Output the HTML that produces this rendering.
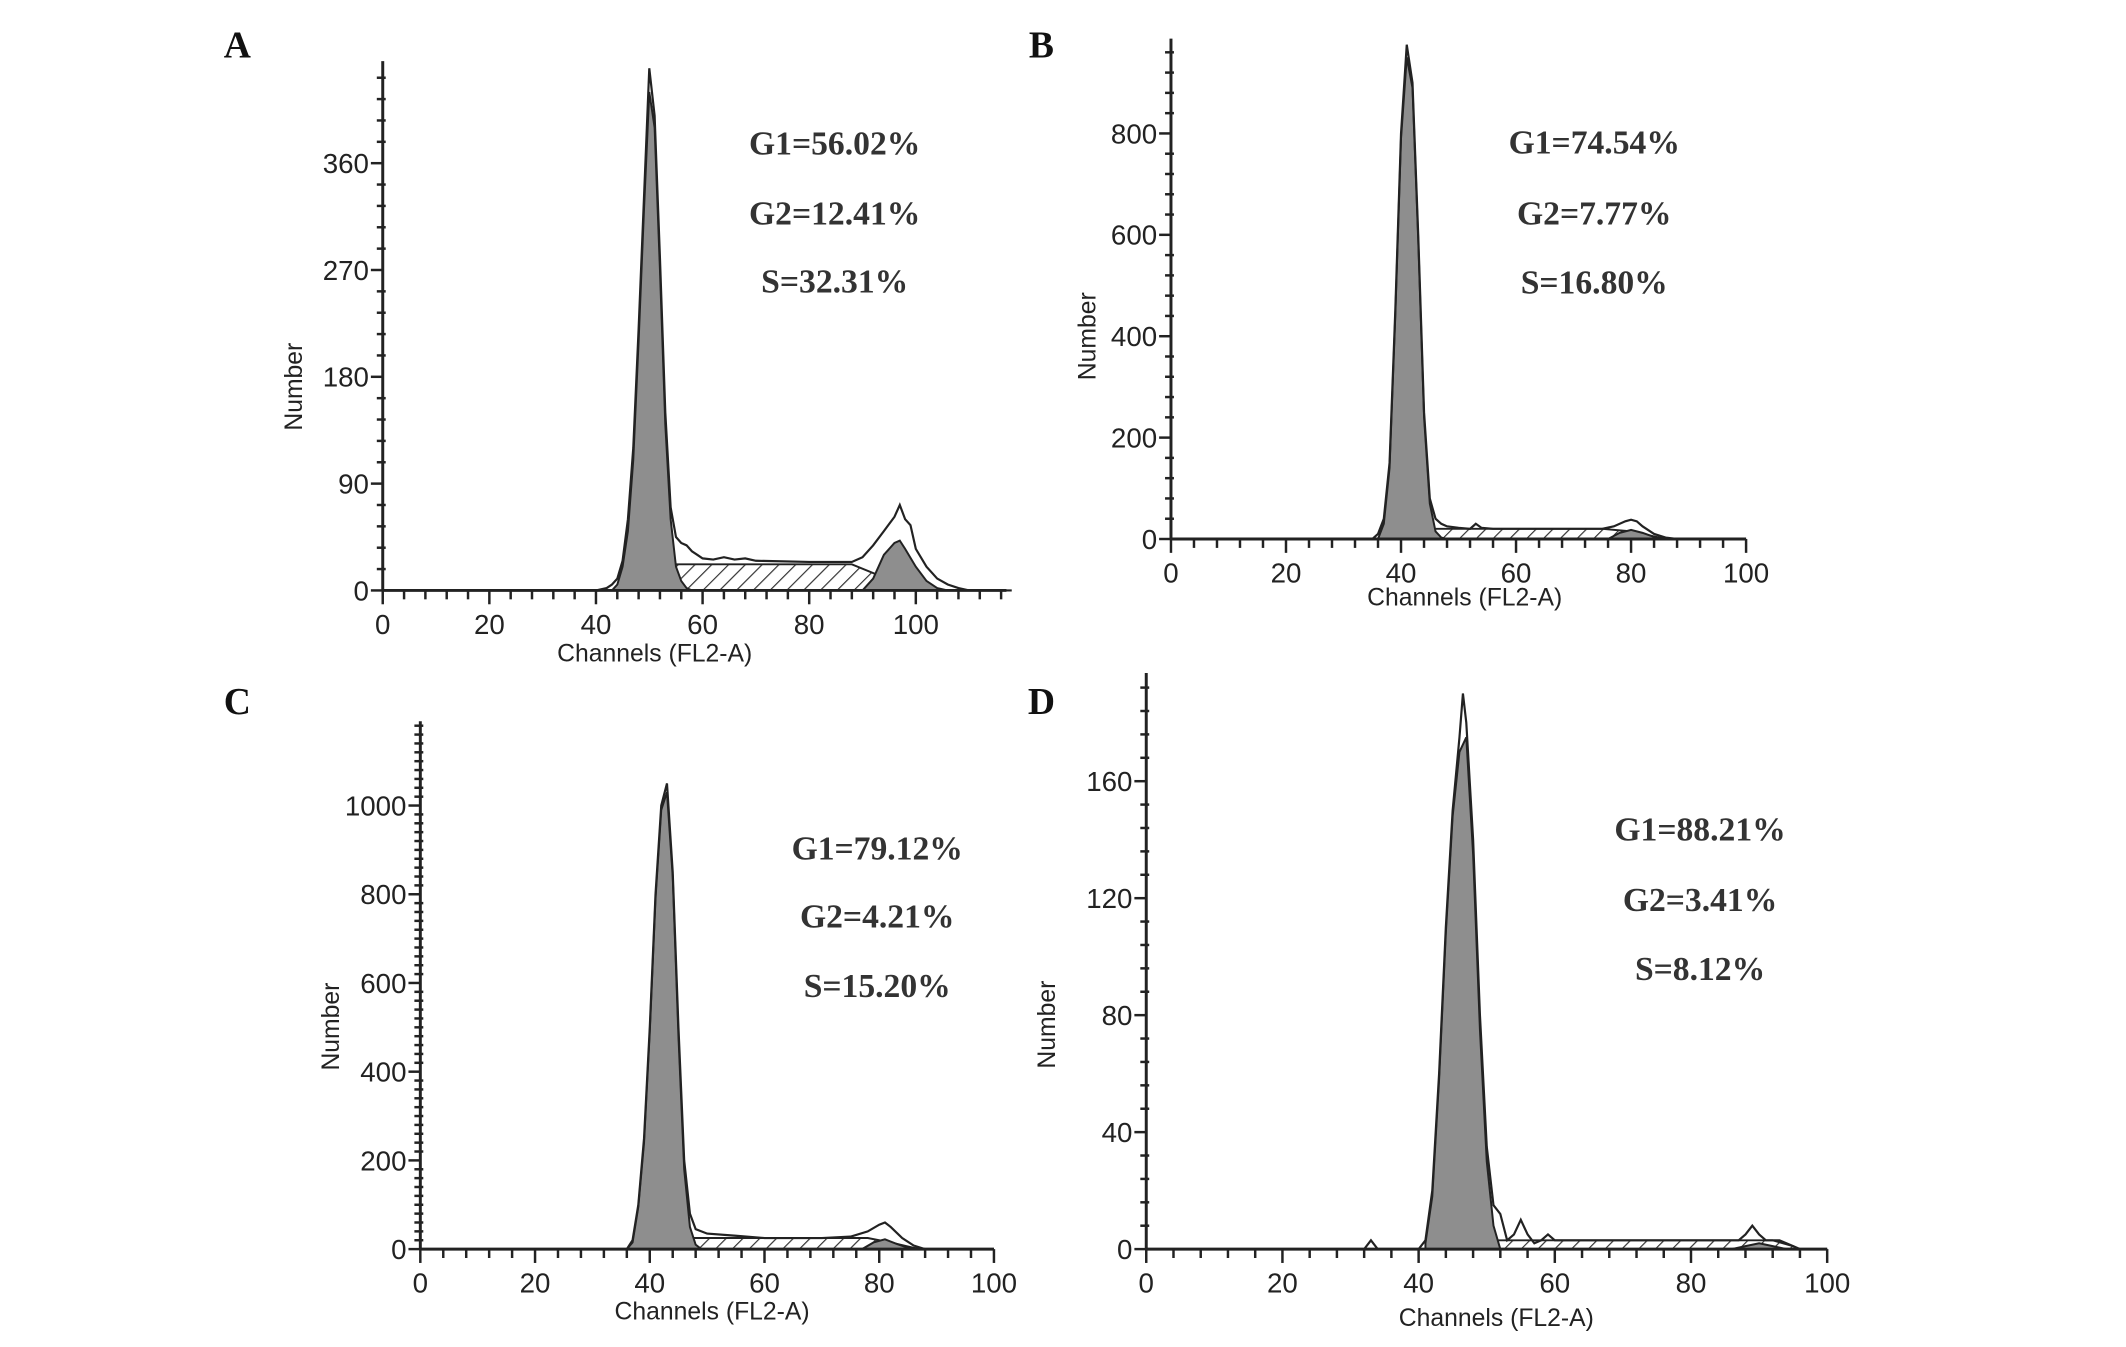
<!DOCTYPE html>
<html><head><meta charset="utf-8"><style>
html,body{margin:0;padding:0;background:#fff;overflow:hidden;}
svg{display:block;}
.tk{font-family:"Liberation Sans",sans-serif;font-size:28px;fill:#222;}
.ttl{font-family:"Liberation Sans",sans-serif;font-size:25px;fill:#222;}
.st{font-family:"Liberation Serif",serif;font-size:34px;font-weight:bold;fill:#333;}
.pl{font-family:"Liberation Serif",serif;font-size:38px;font-weight:bold;fill:#111;}
</style></head><body>
<svg width="2126" height="1347" viewBox="0 0 2126 1347" xmlns="http://www.w3.org/2000/svg">
<defs>
<pattern id="hatch" patternUnits="userSpaceOnUse" width="12" height="12" patternTransform="rotate(45)">
<rect width="12" height="12" fill="#fff"/><line x1="0" y1="0" x2="0" y2="12" stroke="#333" stroke-width="2.4"/>
</pattern>
</defs>
<g id="fig" transform="scale(0.989)"></g>
</svg>
<script>
// ---- Panel A data ----
const aTotalX=[0,40,42,43,44,45,46,47,48,49,50,51,52,53,54,55,56,57,58,59,60,62,64,66,68,70,80,88,90,92,94,96,97,98,99,100,102,104,106,108,110,118];
const aTotalY=[0,0,2,5,10,25,60,120,220,330,440,400,280,150,70,45,40,38,33,30,27,26,28,26,27,25,24,24,28,38,50,62,72,60,55,35,20,10,5,2,0,0];
const aG1X=[43,44,45,46,47,48,49,50,51,52,53,54,55,56,57,58];
const aG1Y=[0,5,20,50,110,210,320,420,390,270,140,60,20,8,2,0];
const aSX=[47,55,88,100];
const aSY=[0,22,22,0];
const aG2X=[90,92,94,96,97,98,100,102,104,106];
const aG2Y=[0,10,30,40,42,35,20,8,2,0];
// ---- Panel B data ----
const bTotalX=[0,35,36,37,38,39,40,41,42,43,44,45,46,47,48,50,52,53,54,56,60,70,75,77,79,80,81,82,84,86,88,100];
const bTotalY=[0,0,10,40,150,450,800,975,900,600,250,80,40,30,25,22,20,30,22,20,20,20,20,25,35,38,35,25,10,3,0,0];
const bG1X=[36,37,38,39,40,41,42,43,44,45,46,47,48];
const bG1Y=[0,30,140,440,790,950,890,590,240,70,15,3,0];
const bSX=[39,42,45,75,80,84,86];
const bSY=[0,10,20,20,15,5,0];
const bG2X=[76,78,80,82,84,86];
const bG2Y=[0,12,18,12,4,0];
// ---- Panel C data ----
const cTotalX=[0,36,37,38,39,40,41,42,43,44,45,46,47,48,50,55,60,70,75,78,80,81,82,84,86,88,100];
const cTotalY=[0,0,20,100,250,500,800,1000,1050,850,500,200,80,45,35,30,25,25,28,40,55,60,50,25,8,0,0];
const cG1X=[36,37,38,39,40,41,42,43,44,45,46,47,48,49];
const cG1Y=[0,15,95,240,490,790,990,1030,840,480,180,50,10,0];
const cSX=[40,43,46,78,82,86,88];
const cSY=[0,15,25,25,15,3,0];
const cG2X=[77,79,81,83,85,87];
const cG2Y=[0,15,22,12,3,0];
// ---- Panel D data ----
const dTotalX=[0,32,33,34,40,41,42,43,44,45,46,46.5,47,48,49,50,51,52,53,54,55,56,57,58,59,60,65,70,80,87,88,89,90,91,93,95,96,100];
const dTotalY=[0,0,3,0,0,3,20,60,110,150,175,190,180,140,80,35,15,12,3,5,10,5,2,3,5,3,3,3,3,3,5,8,5,3,3,1,0,0];
const dG1X=[41,42,43,44,45,46,47,48,49,50,51,52];
const dG1Y=[2,18,58,108,148,170,175,135,75,30,8,0];
const dSX=[43,46,92,95,96];
const dSY=[0,3,3,1,0];
const dG2X=[86,88,90,92,94];
const dG2Y=[0,1,2,1,0];
// ---- tick labels & stats ----
const aXTicks=[0,20,40,60,80,100], aYTicks=[0,90,180,270,360];
const bXTicks=[0,20,40,60,80,100], bYTicks=[0,200,400,600,800];
const cXTicks=[0,20,40,60,80,100], cYTicks=[0,200,400,600,800,1000];
const dXTicks=[0,20,40,60,80,100], dYTicks=[0,40,80,120,160];
const aStats=["G1=56.02%","G2=12.41%","S=32.31%"];
const bStats=["G1=74.54%","G2=7.77%","S=16.80%"];
const cStats=["G1=79.12%","G2=4.21%","S=15.20%"];
const dStats=["G1=88.21%","G2=3.41%","S=8.12%"];

const NS="http://www.w3.org/2000/svg";
const svg=document.getElementById('fig');
function mk(tag,attrs,parent){const e=document.createElementNS(NS,tag);for(const k in attrs)e.setAttribute(k,attrs[k]);(parent||svg).appendChild(e);return e;}

const panels=[
 {id:'a',L:'A',x0:387,y0:597,xs:5.39,ys:1.2,xEnd:117,yTop:446,xMinor:4,yMinor:18,xT:aXTicks,yT:aYTicks,tot:[aTotalX,aTotalY],g1:[aG1X,aG1Y],s:[aSX,aSY],g2:[aG2X,aG2Y],stats:aStats,
  lab:[240,45],sx:844,sy:[144,215,284],nl:[299,391],cl:[662,660]},
 {id:'b',L:'B',x0:1184,y0:545,xs:5.815,ys:0.5126,xEnd:100,yTop:987,xMinor:4,yMinor:40,xT:bXTicks,yT:bYTicks,tot:[bTotalX,bTotalY],g1:[bG1X,bG1Y],s:[bSX,bSY],g2:[bG2X,bG2Y],stats:bStats,
  lab:[1053,45],sx:1612,sy:[143,215,285],nl:[1101,340],cl:[1481,603]},
 {id:'c',L:'C',x0:425,y0:1263,xs:5.80,ys:0.4485,xEnd:100,yTop:1190,xMinor:4,yMinor:20,xT:cXTicks,yT:cYTicks,tot:[cTotalX,cTotalY],g1:[cG1X,cG1Y],s:[cSX,cSY],g2:[cG2X,cG2Y],stats:cStats,
  lab:[240,709],sx:887,sy:[857,926,996],nl:[336,1038],cl:[720,1325]},
 {id:'d',L:'D',x0:1159,y0:1263,xs:6.885,ys:2.957,xEnd:100,yTop:197,xMinor:4,yMinor:8,xT:dXTicks,yT:dYTicks,tot:[dTotalX,dTotalY],g1:[dG1X,dG1Y],s:[dSX,dSY],g2:[dG2X,dG2Y],stats:dStats,
  lab:[1053,709],sx:1719,sy:[838,909,979],nl:[1060,1036],cl:[1513,1332]}
];

panels.forEach(p=>{
 const X=v=>p.x0+v*p.xs, Y=v=>p.y0-v*p.ys;
 const g=mk('g',{});
 
 
 const area=(arr,fill,name)=>{
  let d='M'+X(arr[0][0])+','+p.y0;
  arr[0].forEach((x,i)=>{d+=' L'+X(x).toFixed(1)+','+Y(arr[1][i]).toFixed(1);});
  d+=' L'+X(arr[0][arr[0].length-1])+','+p.y0+' Z';
  const e=mk('path',{d:d,fill:fill,stroke:'#222','stroke-width':2},g);
  
  
 };
 area(p.s,'url(#hatch)','s-phase-area');
 area(p.g1,'#8e8e8e','g1-peak-area');
 area(p.g2,'#8e8e8e','g2-peak-area');
 let d='';
 p.tot[0].forEach((x,i)=>{d+=(i?' L':'M')+X(x).toFixed(1)+','+Y(p.tot[1][i]).toFixed(1);});
 const ol=mk('path',{d:d,fill:'none',stroke:'#222','stroke-width':2.2},g);
 
 
 const ya=mk('line',{x1:p.x0,y1:p.y0,x2:p.x0,y2:Y(p.yTop),stroke:'#222','stroke-width':3},g);
 
 
 const xa=mk('line',{x1:p.x0,y1:p.y0,x2:X(p.xEnd),y2:p.y0,stroke:'#222','stroke-width':3},g);
 
 
 for(let v=0;v<=p.xEnd+0.001;v+=p.xMinor){
  const major=p.xT.indexOf(v)>=0;
  mk('line',{x1:X(v),y1:p.y0,x2:X(v),y2:p.y0+(major?14:9),stroke:'#222','stroke-width':2.5},g);
 }
 for(let v=0;v<=p.yTop;v+=p.yMinor){
  const major=p.yT.indexOf(v)>=0;
  mk('line',{x1:p.x0-(major?12:6),y1:Y(v),x2:p.x0+(major?0:3),y2:Y(v),stroke:'#222','stroke-width':2.5},g);
 }
 p.xT.forEach(v=>{
  const t=mk('text',{x:X(v),y:p.y0+44,'text-anchor':'middle',class:'tk'},g);t.textContent=v;
  
  
 });
 p.yT.forEach(v=>{
  const t=mk('text',{x:p.x0-14,y:Y(v)+10,'text-anchor':'end',class:'tk'},g);t.textContent=v;
  
  
 });
 const yt=mk('text',{x:p.nl[0],y:p.nl[1],'text-anchor':'middle',class:'ttl',transform:'rotate(-90 '+p.nl[0]+' '+p.nl[1]+')','dominant-baseline':'middle'},g);
 yt.textContent='Number';
 
 
 const xt=mk('text',{x:p.cl[0],y:p.cl[1]+9,'text-anchor':'middle',class:'ttl'},g);
 xt.textContent='Channels (FL2-A)';
 
 
 const pl=mk('text',{x:p.lab[0],y:p.lab[1]+13,'text-anchor':'middle',class:'pl'},g);
 pl.textContent=p.L;
 
 
 p.stats.forEach((s,i)=>{
  const t=mk('text',{x:p.sx,y:p.sy[i]+12,'text-anchor':'middle',class:'st'},g);
  t.textContent=s;
  
  
 });
});
</script>
</body></html>
